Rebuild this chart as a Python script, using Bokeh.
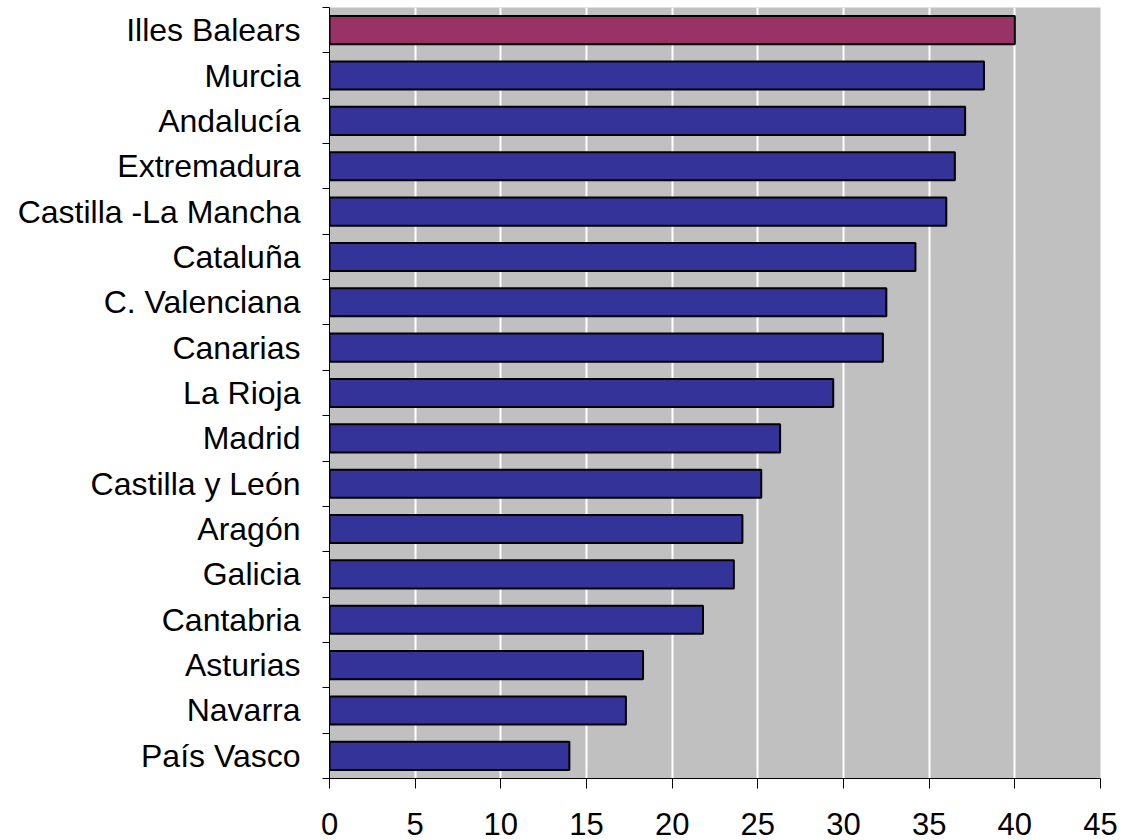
from bokeh.plotting import figure
from bokeh.models import Range1d, FixedTicker, ColumnDataSource
from bokeh.embed import file_html
from bokeh.resources import INLINE

# ---- data ----
regions = ["Illes Balears", "Murcia", "Andalucía", "Extremadura",
           "Castilla -La Mancha", "Cataluña", "C. Valenciana", "Canarias",
           "La Rioja", "Madrid", "Castilla y León", "Aragón", "Galicia",
           "Cantabria", "Asturias", "Navarra", "País Vasco"]
values = [40.0, 38.2, 37.1, 36.5, 36.0, 34.2, 32.5, 32.3, 29.4, 26.3,
          25.2, 24.1, 23.6, 21.8, 18.3, 17.3, 14.0]
highlight = "Illes Balears"
x_ticks = [0, 5, 10, 15, 20, 25, 30, 35, 40, 45]

BAR = "#333399"
HIGH = "#993366"

n = len(regions)
ypos = [n - 1 - i for i in range(n)]
colors = [HIGH if r == highlight else BAR for r in regions]
src = ColumnDataSource(dict(y=ypos, v=values, c=colors, name=regions))

p = figure(width=1121, height=840, output_backend="svg", toolbar_location=None,
           x_range=Range1d(0, 45), y_range=Range1d(-0.5, n - 0.5),
           min_border_left=329, min_border_right=21, min_border_top=7,
           min_border_bottom=62)

p.background_fill_color = "#C0C0C0"
p.border_fill_color = "white"
p.outline_line_color = None

p.hbar(y="y", right="v", left=0, height=0.62, source=src,
       fill_color="c", line_color="black", line_width=2)

# grid
p.ygrid.grid_line_color = None
p.xgrid.grid_line_color = "white"
p.xgrid.grid_line_width = 2
p.xgrid.ticker = FixedTicker(ticks=x_ticks)

# x axis
xa = p.xaxis[0]
xa.ticker = FixedTicker(ticks=x_ticks)
xa.major_tick_out = 10
xa.major_tick_in = 0
xa.minor_tick_line_color = None
xa.axis_line_color = "black"
xa.major_tick_line_color = "black"
xa.major_label_text_font = "Liberation Sans"
xa.major_label_text_font_size = "31px"
xa.major_label_text_color = "black"
xa.major_label_text_line_height = 0.6
xa.major_label_standoff = 24

# y axis: labels at centers, ticks at boundaries (minor)
ya = p.yaxis[0]
ya.ticker = FixedTicker(ticks=ypos, minor_ticks=[k - 0.5 for k in range(n + 1)])
ya.major_label_overrides = {y: r for y, r in zip(ypos, regions)}
ya.major_tick_line_color = None
ya.major_tick_out = 0
ya.major_tick_in = 0
ya.minor_tick_line_color = "black"
ya.minor_tick_out = 7
ya.minor_tick_in = 0
ya.axis_line_color = "black"
ya.major_label_text_font = "Liberation Sans"
ya.major_label_text_font_size = "32px"
ya.major_label_text_color = "black"
ya.major_label_standoff = 22

open("out.html", "w").write(file_html(p, INLINE))
